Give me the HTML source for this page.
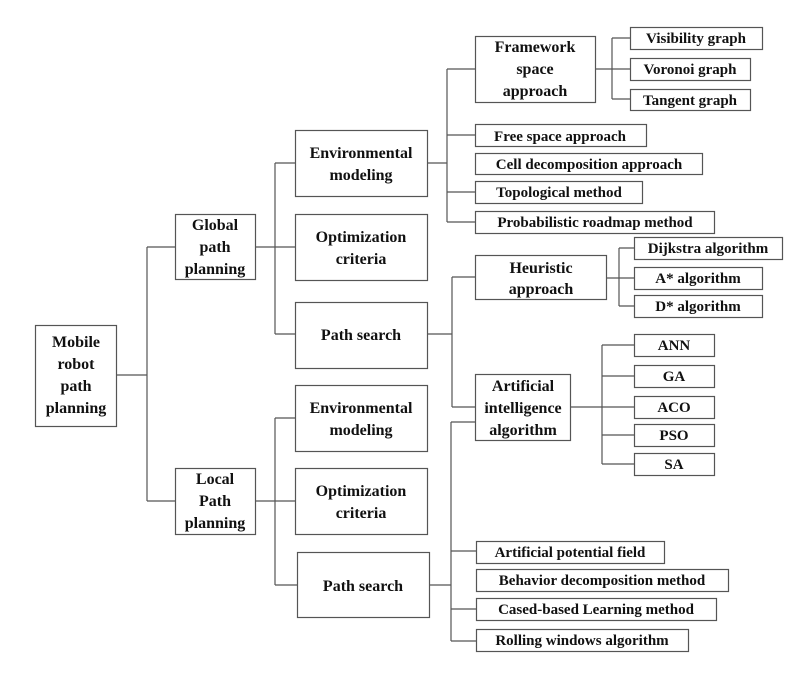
<!DOCTYPE html>
<html><head><meta charset="utf-8"><style>
html,body{margin:0;padding:0;background:#fff;}
svg{display:block}
text{font-family:"Liberation Serif",serif;font-weight:bold;fill:#111;text-anchor:middle;}
.b{font-size:16px}
.s{font-size:15px}
</style></head><body>
<svg width="807" height="674" viewBox="0 0 807 674" xmlns="http://www.w3.org/2000/svg">
<g fill="none" stroke="#555" stroke-width="1.2">
<!-- connectors -->
<path d="M116 375H147M147 247V501M147 247H175M147 501H175"/>
<path d="M255 247H295M275 163V334M275 163H295M275 334H295"/>
<path d="M255 501H295M275 418V585M275 418H295M275 585H297"/>
<path d="M427 163H447M447 69V222M447 69H475M447 135H475M447 222H475M447 192H475"/>
<path d="M595 69H630M612 38V99M612 38H630M612 99H630"/>
<path d="M427 334H452M452 277V407M452 277H475M452 407H475"/>
<path d="M606 278H634M619 248V306M619 248H634M619 306H634"/>
<path d="M570 407H634M602 345V464M602 345H634M602 376H634M602 435H634M602 464H634"/>
<path d="M429 585H451M451 422V641M451 422H475M451 551H476M451 609H476M451 641H476"/>
<!-- boxes -->
<rect x="35.5" y="325.5" width="81" height="101"/>
<rect x="175.5" y="214.5" width="80" height="65"/>
<rect x="175.5" y="468.5" width="80" height="66"/>
<rect x="295.5" y="130.5" width="132" height="66"/>
<rect x="295.5" y="214.5" width="132" height="66"/>
<rect x="295.5" y="302.5" width="132" height="66"/>
<rect x="295.5" y="385.5" width="132" height="66"/>
<rect x="295.5" y="468.5" width="132" height="66"/>
<rect x="297.5" y="552.5" width="132" height="65"/>
<rect x="475.5" y="36.5" width="120" height="66"/>
<rect x="630.5" y="27.5" width="132" height="22"/>
<rect x="630.5" y="58.5" width="120" height="22"/>
<rect x="630.5" y="89.5" width="120" height="21"/>
<rect x="475.5" y="124.5" width="171" height="22"/>
<rect x="475.5" y="153.5" width="227" height="21"/>
<rect x="475.5" y="181.5" width="167" height="22"/>
<rect x="475.5" y="211.5" width="239" height="22"/>
<rect x="475.5" y="255.5" width="131" height="44"/>
<rect x="634.5" y="237.5" width="148" height="22"/>
<rect x="634.5" y="267.5" width="128" height="22"/>
<rect x="634.5" y="295.5" width="128" height="22"/>
<rect x="475.5" y="374.5" width="95" height="66"/>
<rect x="634.5" y="334.5" width="80" height="22"/>
<rect x="634.5" y="365.5" width="80" height="22"/>
<rect x="634.5" y="396.5" width="80" height="22"/>
<rect x="634.5" y="424.5" width="80" height="22"/>
<rect x="634.5" y="453.5" width="80" height="22"/>
<rect x="476.5" y="541.5" width="188" height="22"/>
<rect x="476.5" y="569.5" width="252" height="22"/>
<rect x="476.5" y="598.5" width="240" height="22"/>
<rect x="476.5" y="629.5" width="212" height="22"/>
</g>
<text class="b" x="76" y="347">Mobile</text>
<text class="b" x="76" y="369">robot</text>
<text class="b" x="76" y="391">path</text>
<text class="b" x="76" y="413">planning</text>
<text class="b" x="215" y="230">Global</text>
<text class="b" x="215" y="252">path</text>
<text class="b" x="215" y="274">planning</text>
<text class="b" x="215" y="484">Local</text>
<text class="b" x="215" y="506">Path</text>
<text class="b" x="215" y="528">planning</text>
<text class="b" x="361" y="158">Environmental</text>
<text class="b" x="361" y="180">modeling</text>
<text class="b" x="361" y="242">Optimization</text>
<text class="b" x="361" y="264">criteria</text>
<text class="b" x="361" y="340">Path search</text>
<text class="b" x="361" y="413">Environmental</text>
<text class="b" x="361" y="435">modeling</text>
<text class="b" x="361" y="496">Optimization</text>
<text class="b" x="361" y="518">criteria</text>
<text class="b" x="363" y="591">Path search</text>
<text class="b" x="535" y="52">Framework</text>
<text class="b" x="535" y="74">space</text>
<text class="b" x="535" y="96">approach</text>
<text class="s" x="696" y="43">Visibility graph</text>
<text class="s" x="690" y="74">Voronoi graph</text>
<text class="s" x="690" y="105">Tangent graph</text>
<text class="s" x="560" y="141">Free space approach</text>
<text class="s" x="589" y="169">Cell decomposition approach</text>
<text class="s" x="559" y="197">Topological method</text>
<text class="s" x="595" y="227">Probabilistic roadmap method</text>
<text class="b" x="541" y="273">Heuristic</text>
<text class="b" x="541" y="294">approach</text>
<text class="s" x="708" y="253">Dijkstra algorithm</text>
<text class="s" x="698" y="283">A* algorithm</text>
<text class="s" x="698" y="311">D* algorithm</text>
<text class="b" x="523" y="391">Artificial</text>
<text class="b" x="523" y="413">intelligence</text>
<text class="b" x="523" y="435">algorithm</text>
<text class="s" x="674" y="350">ANN</text>
<text class="s" x="674" y="381">GA</text>
<text class="s" x="674" y="412">ACO</text>
<text class="s" x="674" y="440">PSO</text>
<text class="s" x="674" y="469">SA</text>
<text class="s" x="570" y="557">Artificial potential field</text>
<text class="s" x="602" y="585">Behavior decomposition method</text>
<text class="s" x="596" y="614">Cased-based Learning method</text>
<text class="s" x="582" y="645">Rolling windows algorithm</text>
</svg>
</body></html>
